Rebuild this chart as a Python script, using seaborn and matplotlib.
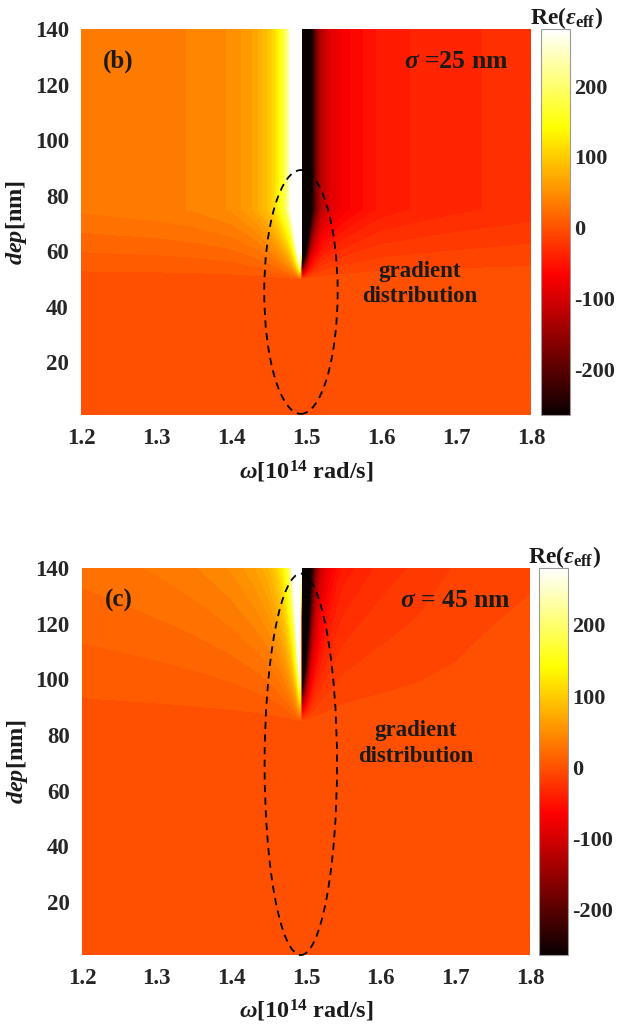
import numpy as np
import matplotlib
matplotlib.use("Agg")
import matplotlib.pyplot as plt
from matplotlib.patches import Ellipse
from matplotlib.colors import Normalize
from matplotlib.cm import ScalarMappable
import seaborn as sns

# frequency samples (10^14 rad/s), dense around the resonance
omega = [1.2, 1.25, 1.3, 1.35, 1.4, 1.43, 1.45, 1.46, 1.47, 1.475, 1.48, 1.485, 1.49, 1.493,
         1.494, 1.498, 1.502, 1.506, 1.51, 1.515, 1.52, 1.53, 1.55, 1.6, 1.65, 1.7, 1.75, 1.8]

# Re(eps_eff) in the resonant layer
eps_top_b = [31, 33, 35, 39, 48, 65, 92, 120, 170, 210, 280, 450, 900, 1300,
             -1500, -900, -550, -320, -230, -165, -125, -95, -70, -45, -38, -33, -30, -27]
eps_top_c = [24, 27, 31, 37, 48, 62, 80, 100, 135, 170, 230, 350, 700, 1000,
             -1500, -900, -550, -330, -220, -150, -110, -75, -45, -28, -20, -13, -8, -6]
eps_background = 0.0

# depth rows (nm) and which profile each row carries
dep_b = [1, 50, 75, 140]
dep_c = [1, 85, 140]

vmin, vmax = -264, 280
cbar_ticks = [-200, -100, 0, 100, 200]

sns.set_style("white")
plt.rcParams["font.family"] = ["Liberation Serif", "DejaVu Serif"]
plt.rcParams["font.weight"] = "bold"
plt.rcParams["axes.labelweight"] = "bold"
plt.rcParams["axes.unicode_minus"] = False
plt.rcParams["mathtext.fontset"] = "custom"
plt.rcParams["mathtext.rm"] = "Liberation Serif:bold"
plt.rcParams["mathtext.bf"] = "Liberation Serif:bold"
plt.rcParams["mathtext.it"] = "Liberation Serif:italic:bold"

cmap = sns.color_palette("hot", as_cmap=True)
levels = np.linspace(vmin, vmax, 64)
norm = Normalize(vmin, vmax)
flat = np.full(len(omega), eps_background)

Z_b = np.array([flat, flat, eps_top_b, eps_top_b], dtype=float)
Z_c = np.array([flat, flat, eps_top_c], dtype=float)

fig = plt.figure(figsize=(6.17, 10.33), dpi=100)
txt = "#1a1a1a"

panels = [
    dict(pos=[0.132, 0.598, 0.7285, 0.3737], cpos=[0.877, 0.598, 0.047, 0.3737],
         dep=dep_b, Z=Z_b, label="(b)", sigma=r"$\sigma$ =25 nm",
         ell=(1.493, 45.4, 0.098, 87.8), grad=(1.652, 52.8, 43.8)),
    dict(pos=[0.133, 0.0755, 0.726, 0.3746], cpos=[0.8736, 0.0755, 0.047, 0.3746],
         dep=dep_c, Z=Z_c, label="(c)", sigma=r"$\sigma$ = 45 nm",
         ell=(1.493, 69.5, 0.097, 137.0), grad=(1.647, 81.5, 72.2)),
]

for p in panels:
    ax = fig.add_axes(p["pos"])
    ax.contourf(omega, p["dep"], p["Z"], levels=levels, cmap=cmap, extend="both")
    ax.set_xlim(1.2, 1.8)
    ax.set_ylim(1, 140)
    ax.set_xticks([1.2, 1.3, 1.4, 1.5, 1.6, 1.7, 1.8])
    ax.set_xticklabels(["1.2", "1.3", "1.4", "1.5", "1.6", "1.7", "1.8"])
    ax.set_yticks([20, 40, 60, 80, 100, 120, 140])
    ax.tick_params(length=0, labelsize=16.5, colors="#262626", pad=9)
    for s in ax.spines.values():
        s.set_visible(False)
    ax.set_xlabel(r"$\omega$[10$^{14}$ rad/s]", fontsize=17.5, color=txt, labelpad=7)
    ax.set_ylabel(r"$dep$[nm]", fontsize=17.5, color=txt, labelpad=4)

    cx, cy, w, h = p["ell"]
    ax.add_patch(Ellipse((cx, cy), w, h, fill=False, ls=(0, (4, 3)), lw=1.3,
                         color="k", clip_on=False))
    ax.text(1.249, 128.5, p["label"], fontsize=18, ha="center", va="center", color=txt)
    ax.text(1.70, 128.5, p["sigma"], fontsize=18.5, ha="center", va="center", color=txt)
    gx, gy1, gy2 = p["grad"]
    ax.text(gx, gy1, "gradient", fontsize=16.5, ha="center", va="center", color=txt)
    ax.text(gx, gy2, "distribution", fontsize=16.5, ha="center", va="center", color=txt)

    cax = fig.add_axes(p["cpos"])
    cb = fig.colorbar(ScalarMappable(norm=norm, cmap=cmap), cax=cax, ticks=cbar_ticks)
    cb.outline.set_edgecolor("#999999")
    cb.outline.set_linewidth(0.8)
    cax.tick_params(direction="in", length=4, color="#888888", labelsize=16,
                    labelcolor="#262626", pad=3)
    cpx = p["cpos"]
    fig.text(cpx[0] - 0.018, cpx[1] + cpx[3] - 0.002, r"Re($\varepsilon_{\rm eff}$)",
             fontsize=17, ha="left", va="bottom", color=txt)

fig.savefig("out.png", dpi=100)
